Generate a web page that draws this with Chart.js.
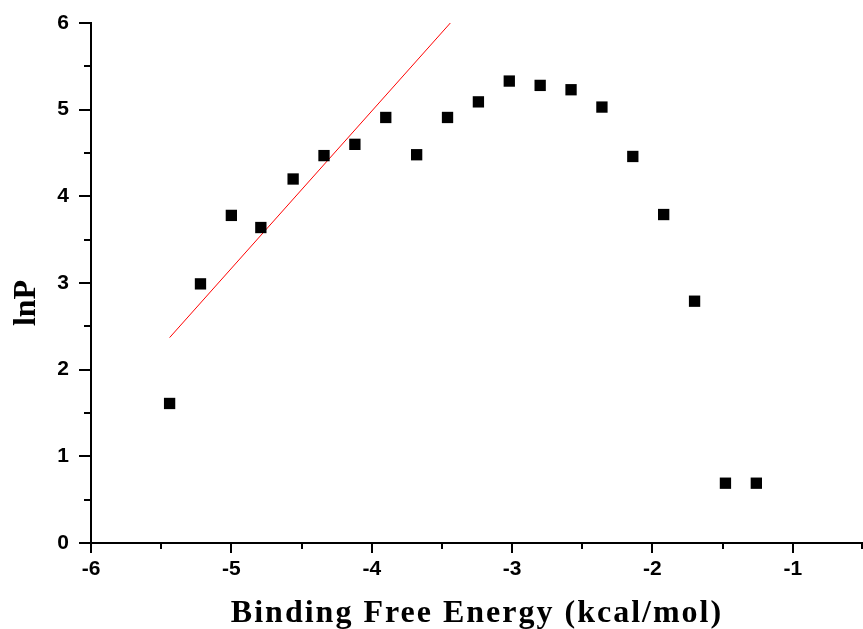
<!DOCTYPE html>
<html>
<head>
<meta charset="utf-8">
<script src="https://cdn.jsdelivr.net/npm/chart.js@4.4.1/dist/chart.umd.min.js"></script>
<style>
  html, body { margin: 0; padding: 0; background: #fff; }
  #wrap { width: 863px; height: 629px; }
</style>
</head>
<body>
<div id="wrap"><canvas id="chart" width="863" height="629"></canvas></div>
<script>
// binding free energy (kcal/mol) vs lnP
const energy = [-5.44, -5.22, -5.00, -4.79, -4.56, -4.34, -4.12, -3.90, -3.68, -3.46,
                -3.24, -3.02, -2.80, -2.58, -2.36, -2.14, -1.92, -1.70, -1.48, -1.26];
const lnP = [1.61, 2.99, 3.78, 3.64, 4.20, 4.47, 4.60, 4.91, 4.48, 4.91,
             5.09, 5.33, 5.28, 5.23, 5.03, 4.46, 3.79, 2.79, 0.69, 0.69];

// red fit line end points
const fitX = [-5.44, -3.44];
const fitY = [2.37, 6.0];

const xTicks = [-6, -5, -4, -3, -2, -1];
const yTicks = [0, 1, 2, 3, 4, 5, 6];

const xLabel = 'Binding Free Energy (kcal/mol)';
const yLabel = 'lnP';

const tickFont = { family: '"Liberation Sans", Arial, sans-serif', size: 21, weight: 'bold' };
const titleFont = 'bold 32px "Liberation Serif", "Times New Roman", serif';

// minor ticks + axis titles
const extras = {
    id: 'extras',
    afterDraw(chart) {
        const ctx = chart.ctx;
        const xs = chart.scales.x, ys = chart.scales.y;
        const area = chart.chartArea;
        ctx.save();
        ctx.strokeStyle = '#000';
        ctx.lineWidth = 2;
        for (let v = -5.5; v <= -0.5; v += 1) {
            const px = Math.min(Math.round(xs.getPixelForValue(v)), chart.width - 1);
            ctx.beginPath();
            ctx.moveTo(px, area.bottom);
            ctx.lineTo(px, area.bottom + 6);
            ctx.stroke();
        }
        for (let v = 0.5; v < 6; v += 1) {
            const py = Math.round(ys.getPixelForValue(v));
            ctx.beginPath();
            ctx.moveTo(area.left, py);
            ctx.lineTo(area.left - 7, py);
            ctx.stroke();
        }
        ctx.fillStyle = '#000';
        ctx.font = titleFont;
        ctx.textAlign = 'center';
        ctx.textBaseline = 'alphabetic';
        ctx.letterSpacing = '2px';
        ctx.fillText(xLabel, (area.left + area.right) / 2, 622);
        ctx.translate(35, (area.top + area.bottom) / 2 + 20);
        ctx.rotate(-Math.PI / 2);
        ctx.letterSpacing = '0px';
        ctx.fillText(yLabel, 0, 0);
        ctx.restore();
    }
};

new Chart(document.getElementById('chart').getContext('2d'), {
    type: 'scatter',
    data: {
        datasets: [{
            label: 'data',
            data: energy.map((x, i) => ({ x: x, y: lnP[i] })),
            pointStyle: 'rect',
            pointRadius: 8,
            backgroundColor: '#000',
            borderWidth: 0
        },
        {
            label: 'fit',
            data: fitX.map((x, i) => ({ x: x, y: fitY[i] })),
            showLine: true,
            borderColor: '#ff0000',
            borderWidth: 1,
            pointRadius: 0
        }]
    },
    options: {
        responsive: false,
        animation: false,
        layout: { autoPadding: false, padding: { top: 23, right: 0, left: 0, bottom: 0 } },
        plugins: { legend: { display: false }, tooltip: { enabled: false } },
        scales: {
            x: {
                type: 'linear',
                min: -6,
                max: -0.5,
                afterBuildTicks: s => { s.ticks = xTicks.map(v => ({ value: v })); },
                afterFit: s => { s.height = 86; s.paddingLeft = 0; s.paddingRight = 0; },
                ticks: { color: '#000', font: tickFont, padding: 4, maxRotation: 0, autoSkip: false },
                grid: { drawOnChartArea: false, drawTicks: true, tickLength: 10, color: '#000', lineWidth: 2 },
                border: { display: true, color: '#000', width: 2 }
            },
            y: {
                type: 'linear',
                min: 0,
                max: 6,
                afterBuildTicks: s => { s.ticks = yTicks.map(v => ({ value: v })); },
                afterFit: s => { s.width = 91; },
                ticks: { color: '#000', font: tickFont, padding: 10, autoSkip: false },
                grid: { drawOnChartArea: false, drawTicks: true, tickLength: 12, color: '#000', lineWidth: 2 },
                border: { display: true, color: '#000', width: 2 }
            }
        }
    },
    plugins: [extras]
});
</script>
</body>
</html>
